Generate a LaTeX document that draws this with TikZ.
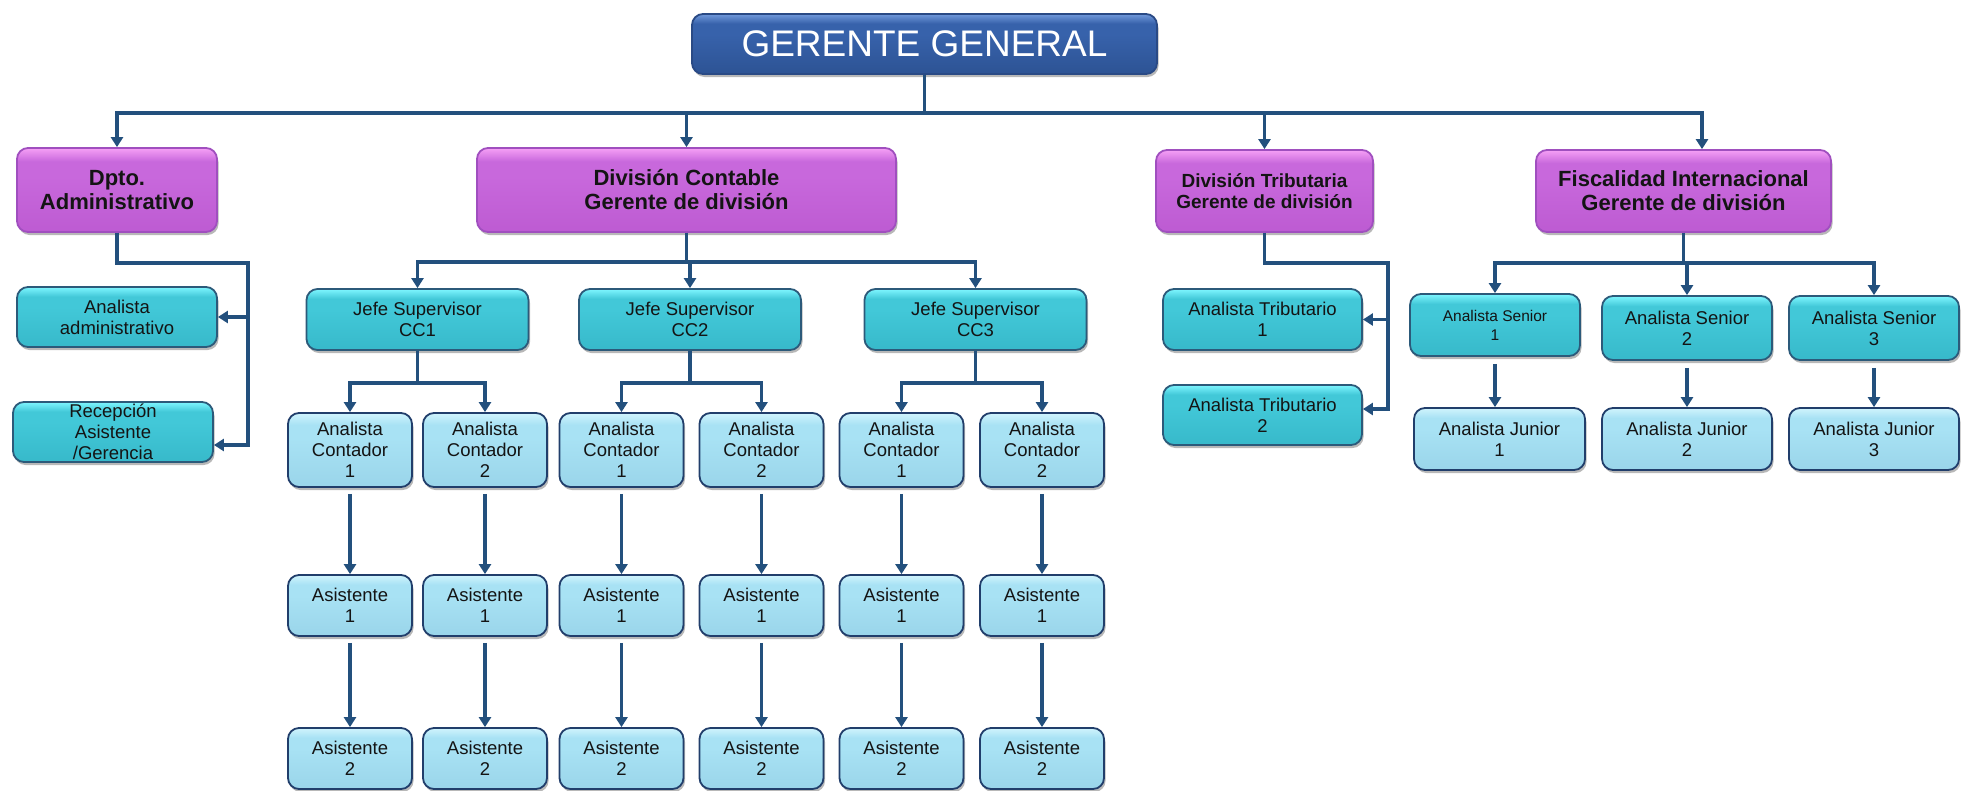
\documentclass[tikz,border=0pt]{standalone}
\usepackage{fontspec}
\setmainfont{Liberation Sans}
\usetikzlibrary{arrows.meta,shadows}

% connector colour
\definecolor{wirec}{HTML}{23507D}
% division boxes (purple)
\definecolor{pu1}{HTML}{F6A0F6}
\definecolor{pu2}{HTML}{C868DC}
\definecolor{pu3}{HTML}{BD5BD2}
\definecolor{puline}{HTML}{A04FBF}
% second level boxes (teal)
\definecolor{te1}{HTML}{7EF6FF}
\definecolor{te2}{HTML}{42C8D8}
\definecolor{te3}{HTML}{37B9CA}
\definecolor{teline}{HTML}{2C5A7A}
% staff boxes (pale blue)
\definecolor{lb1}{HTML}{D0F4FD}
\definecolor{lb2}{HTML}{A8E2F4}
\definecolor{lb3}{HTML}{9AD5EA}
\definecolor{lbline}{HTML}{213E6B}
% top box (dark blue)
\definecolor{db1}{HTML}{7199DB}
\definecolor{db2}{HTML}{3762AB}
\definecolor{db3}{HTML}{2D5394}
\definecolor{dbline}{HTML}{2A4A85}
\definecolor{ink}{HTML}{141414}

% glossy vertical fills: light band at the top, flat body below
\pgfdeclareverticalshading{shpu}{100bp}{color(0bp)=(pu3); color(25bp)=(pu3); color(58bp)=(pu2); color(67bp)=(pu2); color(75bp)=(pu1); color(100bp)=(pu1)}
\pgfdeclareverticalshading{shte}{100bp}{color(0bp)=(te3); color(25bp)=(te3); color(58bp)=(te2); color(67bp)=(te2); color(75bp)=(te1); color(100bp)=(te1)}
\pgfdeclareverticalshading{shlb}{100bp}{color(0bp)=(lb3); color(25bp)=(lb3); color(58bp)=(lb2); color(67bp)=(lb2); color(75bp)=(lb1); color(100bp)=(lb1)}
\pgfdeclareverticalshading{shdb}{100bp}{color(0bp)=(db3); color(25bp)=(db3); color(58bp)=(db2); color(67bp)=(db2); color(75bp)=(db1); color(100bp)=(db1)}

\tikzset{
  box/.style={rounded corners=11pt, line width=1.8pt, align=center, inner sep=0pt,
    text=ink, drop shadow={shadow xshift=1.5pt, shadow yshift=-3pt, opacity=0.28, fill=black}},
  topbox/.style={box, draw=dbline, shade, shading=shdb, text=white,
    font=\fontsize{37}{40}\selectfont},
  divbox/.style={box, draw=puline, shade, shading=shpu,
    font=\bfseries\fontsize{22}{24}\selectfont},
  tealbox/.style={box, draw=teline, shade, shading=shte,
    font=\fontsize{18.5}{21}\selectfont},
  palebox/.style={box, draw=lbline, shade, shading=shlb,
    font=\fontsize{18.5}{21}\selectfont},
  wire/.style={draw=wirec, line width=3.6pt},
  arr/.style={wire, -{Triangle[width=12pt,length=10pt]}},
}

\begin{document}
\begin{tikzpicture}[x=1pt,y=-1pt]
\useasboundingbox (0,0) rectangle (1961,790);

% ---- top level ----
\node[topbox, minimum width=465pt, minimum height=60pt] (gg) at (924.5,44) {GERENTE GENERAL};

% ---- divisions ----
\node[divbox, minimum width=200pt, minimum height=84pt] (dpto) at (117,190) {Dpto.\\Administrativo};
\node[divbox, minimum width=419pt, minimum height=84pt] (contable) at (686.5,190) {División Contable\\Gerente de división};
\node[divbox, minimum width=217pt, minimum height=82pt, font=\bfseries\fontsize{19}{21.5}\selectfont] (trib) at (1264.5,191) {División Tributaria\\Gerente de división};
\node[divbox, minimum width=295pt, minimum height=82pt] (fisc) at (1683.5,191) {Fiscalidad Internacional\\Gerente de división};

% ---- administrative department ----
\node[tealbox, minimum width=200pt, minimum height=60pt] (aa) at (117,317) {Analista\\administrativo};
\node[tealbox, minimum width=200pt, minimum height=60pt] (recep) at (113,432) {Recepción\\Asistente\\/Gerencia};

% ---- accounting division ----
\node[tealbox, minimum width=222pt, minimum height=61pt] (cc1) at (417.5,319.5) {Jefe Supervisor\\CC1};
\node[tealbox, minimum width=222pt, minimum height=61pt] (cc2) at (690,319.5) {Jefe Supervisor\\CC2};
\node[tealbox, minimum width=222pt, minimum height=61pt] (cc3) at (975.5,319.5) {Jefe Supervisor\\CC3};

\foreach \i/\x/\n in {1/350/1, 2/485/2, 3/621.5/1, 4/761.5/2, 5/901.5/1, 6/1042/2} {
  \node[palebox, minimum width=124pt, minimum height=74pt] (ac\i) at (\x,450) {Analista\\Contador\\\n};
  \node[palebox, minimum width=124pt, minimum height=61pt] (asa\i) at (\x,605.5) {Asistente\\1};
  \node[palebox, minimum width=124pt, minimum height=61pt] (asb\i) at (\x,758.5) {Asistente\\2};
}

% ---- tax division ----
\node[tealbox, minimum width=199pt, minimum height=61pt] (at1) at (1262.5,319.5) {Analista Tributario\\1};
\node[tealbox, minimum width=199pt, minimum height=60pt] (at2) at (1262.5,415) {Analista Tributario\\2};

% ---- international taxation ----
\node[tealbox, minimum width=170pt, minimum height=62pt, font=\fontsize{15.5}{19}\selectfont] (sen1) at (1495,325) {Analista Senior\\1};
\node[tealbox, minimum width=170pt, minimum height=64pt] (sen2) at (1687,328) {Analista Senior\\2};
\node[tealbox, minimum width=170pt, minimum height=64pt] (sen3) at (1874,328) {Analista Senior\\3};
\node[palebox, minimum width=171pt, minimum height=62pt] (jun1) at (1499.5,439) {Analista Junior\\1};
\node[palebox, minimum width=170pt, minimum height=62pt] (jun2) at (1687,439) {Analista Junior\\2};
\node[palebox, minimum width=170pt, minimum height=62pt] (jun3) at (1874,439) {Analista Junior\\3};

% ---- connectors: general manager to divisions ----
\coordinate (gghub) at (924.5,113);
\draw[arr] (gg.south) -- (gghub) -| (dpto.north);
\draw[arr] (gg.south) -- (gghub) -| (contable.north);
\draw[arr] (gg.south) -- (gghub) -| (trib.north);
\draw[arr] (gg.south) -- (gghub) -| ([xshift=18.5pt]fisc.north);

% administrative department: side rail
\coordinate (dv) at (248,263);
\draw[arr] (dpto.south) |- (dv) |- (aa.east);
\draw[arr] (dpto.south) |- (dv) |- ([yshift=-13pt]recep.east);

% accounting division
\coordinate (chub) at (686.5,262);
\draw[arr] (contable.south) -- (chub) -| (cc1.north);
\draw[arr] (contable.south) -- (chub) -| (cc2.north);
\draw[arr] (contable.south) -- (chub) -| (cc3.north);

\coordinate (k1) at (417.5,383);
\coordinate (k2) at (690,383);
\coordinate (k3) at (975.5,383);
\draw[arr] (cc1.south) -- (k1) -| (ac1.north);
\draw[arr] (cc1.south) -- (k1) -| (ac2.north);
\draw[arr] (cc2.south) -- (k2) -| (ac3.north);
\draw[arr] (cc2.south) -- (k2) -| (ac4.north);
\draw[arr] (cc3.south) -- (k3) -| (ac5.north);
\draw[arr] (cc3.south) -- (k3) -| (ac6.north);

\foreach \i in {1,...,6} {
  \draw[arr, shorten <=6pt] (ac\i.south) -- (asa\i.north);
  \draw[arr, shorten <=6pt] (asa\i.south) -- (asb\i.north);
}

% tax division: side rail
\coordinate (tv) at (1388,263);
\draw[arr] (trib.south) |- (tv) |- (at1.east);
\draw[arr] (trib.south) |- (tv) |- ([yshift=6pt]at2.east);

% international taxation
\coordinate (fhub) at (1683.5,263);
\draw[arr] (fisc.south) -- (fhub) -| (sen1.north);
\draw[arr] (fisc.south) -- (fhub) -| (sen2.north);
\draw[arr] (fisc.south) -- (fhub) -| (sen3.north);
\draw[arr, shorten <=7pt] (sen1.south) -- (sen1.south |- jun1.north);
\draw[arr, shorten <=7pt] (sen2.south) -- (jun2.north);
\draw[arr, shorten <=7pt] (sen3.south) -- (jun3.north);
\end{tikzpicture}
\end{document}
